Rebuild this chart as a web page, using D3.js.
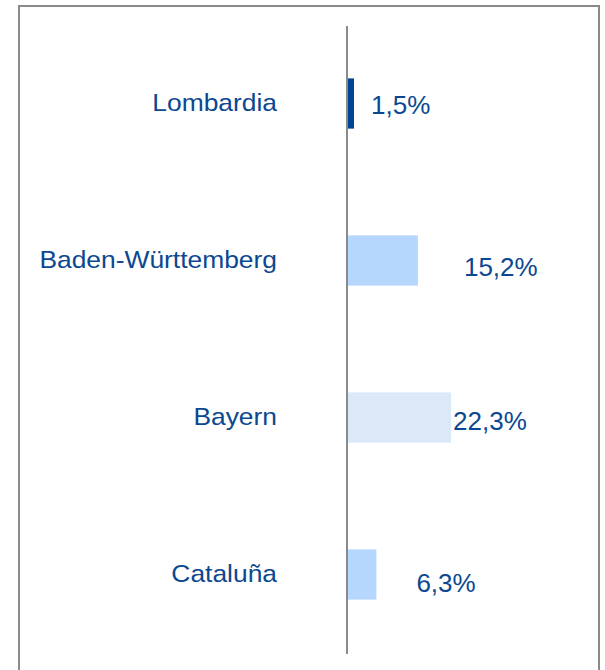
<!DOCTYPE html>
<html>
<head>
<meta charset="utf-8">
<script src="https://cdn.jsdelivr.net/npm/d3@7"></script>
<style>
  html, body { margin: 0; padding: 0; background: #fff; }
  svg { display: block; }
  text { font-family: "Liberation Sans", Arial, sans-serif; }
</style>
</head>
<body>
<script>
// Regional share values (percent)
const regions = ["Lombardia", "Baden-Württemberg", "Bayern", "Cataluña"];
const shares = [1.5, 15.2, 22.3, 6.3];
const shareLabels = ["1,5%", "15,2%", "22,3%", "6,3%"];
const barColors = ["#004494", "#b5d7fd", "#dbe8f8", "#b5d7fd"];

// Layout
const W = 605, H = 670;
const axisX = 347;
const textColor = "#0b4891";
// label placement relative to the bar end / bar centre
const labelDx = [17, 46, 2, 40];
const labelDy = [10, 15, 12, 17];

const svg = d3.select("body").append("svg")
  .attr("width", W).attr("height", H);

// frame (open at the bottom)
svg.append("path")
  .attr("d", `M19,${H + 2} V6 H599 V${H + 2}`)
  .attr("fill", "none")
  .attr("stroke", "#8a8a8a")
  .attr("stroke-width", 2);

const x = d3.scaleLinear().domain([0, 30]).range([axisX, axisX + 140]);
const y = d3.scaleBand().domain(regions).range([25, 653])
  .paddingInner(0.68).paddingOuter(0.34);

// bars
svg.append("g").selectAll("rect")
  .data(regions)
  .join("rect")
  .attr("x", x(0))
  .attr("y", d => y(d))
  .attr("width", (d, i) => x(shares[i]) - x(0))
  .attr("height", y.bandwidth())
  .attr("fill", (d, i) => barColors[i]);

// vertical baseline
svg.append("line")
  .attr("x1", axisX).attr("x2", axisX)
  .attr("y1", 26).attr("y2", 654)
  .attr("stroke", "#8a8a8a")
  .attr("stroke-width", 2);

// category labels
const yAxis = d3.axisLeft(y).tickSize(0).tickPadding(0);
const gy = svg.append("g").attr("transform", "translate(277,0)").call(yAxis);
gy.select(".domain").remove();
gy.selectAll("text")
  .attr("fill", textColor)
  .attr("font-size", 24)
  .attr("font-family", "Liberation Sans, Arial, sans-serif")
  .attr("transform", "scale(1.1,1)");

// value labels
svg.append("g").selectAll("text")
  .data(regions)
  .join("text")
  .attr("x", (d, i) => x(shares[i]) + labelDx[i])
  .attr("y", (d, i) => y(d) + y.bandwidth() / 2 + labelDy[i])
  .attr("fill", textColor)
  .attr("font-size", 26)
  .text((d, i) => shareLabels[i]);
</script>
</body>
</html>
